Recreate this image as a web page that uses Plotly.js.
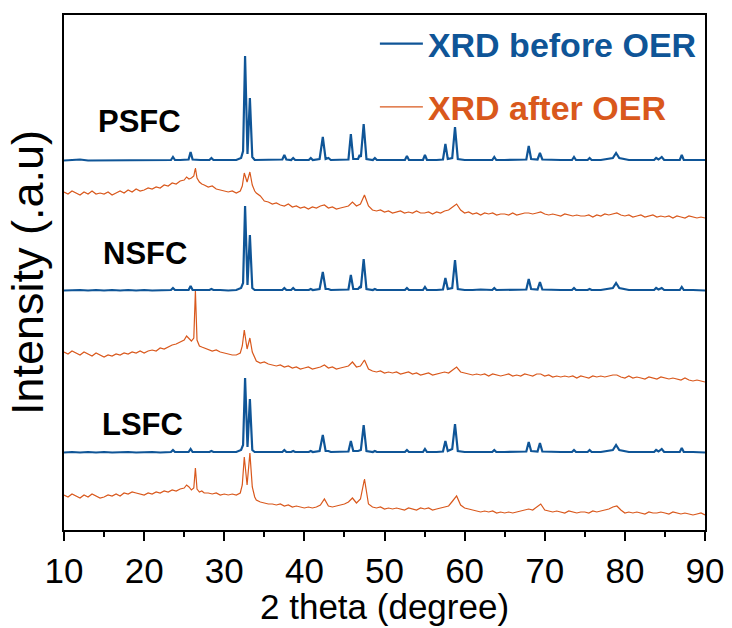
<!DOCTYPE html>
<html>
<head>
<meta charset="utf-8">
<script src="https://cdn.plot.ly/plotly-3.0.1.min.js"></script>
<style>html,body{margin:0;padding:0;background:#fff;}#chart{width:732px;height:628px;}</style>
</head>
<body>
<div id="chart"></div>
<script>
// 2-theta grid for the "before OER" (blue) patterns
const xBefore = [
  10, 11, 12, 13, 14, 15, 16, 17, 18, 19,
  20, 21, 22, 23, 23.35, 23.6, 23.85, 24.5, 25.55, 25.8,
  26.05, 27, 28.15, 28.4, 28.65, 29.5, 30.5, 31.5, 32.1, 32.35,
  32.6, 32.9, 33.2, 33.5, 33.8, 34.5, 35.5, 36.5, 37.25, 37.5,
  37.75, 38.35, 38.6, 38.85, 39.7, 40.55, 40.8, 41.05, 41.9, 42.3,
  42.65, 43.0, 43.3, 44.3, 45.5, 45.8, 46.1, 46.7, 46.9, 47.05,
  47.4, 47.75, 48.55, 48.8, 49.05, 50, 51, 52, 52.55, 52.8,
  53.05, 54, 54.8, 55.05, 55.3, 56.5, 57.3, 57.6, 57.9, 58.45,
  58.8, 59.15, 60, 61, 62, 63.45, 63.7, 63.95, 65, 66,
  67, 67.7, 68.0, 68.3, 69.1, 69.4, 69.7, 71, 72, 73.4,
  73.65, 73.9, 75.35, 75.6, 75.85, 77, 78.5, 78.9, 79.3, 80.5,
  82, 83.65, 83.9, 84.2, 84.6, 84.9, 86, 86.85, 87.1, 87.35,
  88.5, 90
];
const psfcBefore = [
  0.5, 1, 1.5, 0.5, 0.5, 1, 0.5, 1, 0.5, 1,
  0.5, 1, 1, 0.5, 1, 4, 1, 1, 1.5, 9,
  1.5, 1, 1, 3, 1, 1, 1, 1, 3, 10,
  105, 7, 63, 4, 1, 1, 1, 1, 1.5, 6,
  1.5, 1, 3, 1, 1, 1, 3, 1, 2, 24,
  2, 3, 1, 1, 1.5, 27, 2, 2, 6, 4,
  37, 2, 1, 3, 1, 1, 1, 1, 1, 5,
  1, 1, 1, 6, 1, 1, 1.5, 17, 2, 3,
  34, 2, 1, 1, 1, 1, 4, 1, 1, 1,
  1, 1.5, 15, 2, 1.5, 8, 1.5, 1, 1, 1,
  4, 1, 1, 3, 1, 1, 3, 8, 3, 1,
  1, 1, 3, 1.5, 4, 1, 1, 1, 6, 1,
  1, 1
];
const nsfcBefore = [
  0.5, 1, 1, 0.5, 1, 0.5, 1, 0.5, 1, 0.5,
  1, 0.5, 1, 1, 1, 3, 1, 1, 1, 5,
  1, 1, 1, 2, 1, 1, 0.5, 1, 3, 8,
  85, 6, 56, 3, 1, 1, 1, 1, 1, 3,
  1, 1, 3, 1, 1, 1, 2, 1, 2, 19,
  2, 2, 1, 1, 1.5, 16, 2, 2, 4, 3,
  32, 2, 1, 2, 1, 1, 1, 1, 1, 3,
  1, 1, 1, 4, 1, 1, 1.5, 13, 2, 3,
  31, 2, 1, 1, 1.5, 1, 3, 1, 1, 1,
  1, 1.5, 12, 2, 1.5, 9, 1.5, 1, 1, 1,
  3, 1, 1, 2, 1, 1, 3, 8, 3, 1,
  1, 1, 3, 1.5, 3, 1, 1, 1, 4, 1,
  1, 0.5
];
const lsfcBefore = [
  0.5, 1, 0.5, 1, 0.5, 1, 0.5, 1, 1, 0.5,
  1, 1, 0.5, 1, 1, 3, 1, 1, 1, 4,
  1, 1, 1, 2, 1, 1, 1, 1, 3, 8,
  75, 6, 54, 3, 1, 1, 1, 1, 1, 3,
  1, 1, 2, 1, 1, 1, 2, 1, 2, 18,
  2, 2, 1, 1, 1.5, 12, 2, 2, 3, 3,
  28, 2, 1, 2, 1, 1, 1, 1, 1, 3,
  1, 1, 1, 4, 1, 1, 1.5, 12, 2, 4,
  29, 2, 1, 1, 1, 1, 3, 1, 1, 1,
  1, 1.5, 11, 2, 1.5, 10, 1.5, 1, 1, 1,
  3, 1, 1, 3, 1, 1, 3, 8, 3, 1,
  1, 1, 3, 1.5, 4, 1, 1, 1, 5, 1,
  1, 0.5
];

// 2-theta grid for the "after OER" (orange) patterns
const xAfter = [
  10, 10.5, 11, 11.5, 12, 12.5, 13, 13.5, 14, 14.5,
  15, 15.5, 16, 16.5, 17, 17.5, 18, 18.5, 19, 19.5,
  20, 20.5, 21, 21.5, 22, 22.5, 23, 23.5, 24, 24.5,
  25, 25.3, 25.6, 25.9, 26.2, 26.4, 26.6, 26.9, 27.2, 27.5,
  28, 28.5, 29, 29.5, 30, 30.5, 31, 31.5, 32, 32.25,
  32.5, 32.85, 33.2, 33.5, 33.8, 34, 34.5, 35, 35.5, 36,
  36.5, 37, 37.5, 38, 38.5, 39, 39.5, 40, 40.5, 41,
  41.5, 42, 42.5, 43, 43.5, 44, 44.5, 45, 45.5, 46,
  46.5, 47, 47.5, 48, 48.5, 49, 49.5, 50, 50.5, 51,
  51.5, 52, 52.5, 53, 53.5, 54, 54.5, 55, 55.5, 56,
  56.5, 57, 57.5, 58, 58.5, 59, 59.5, 60, 60.5, 61,
  61.5, 62, 62.5, 63, 63.5, 64, 64.5, 65, 65.5, 66,
  66.5, 67, 67.5, 68, 68.5, 69, 69.5, 70, 70.5, 71,
  71.5, 72, 72.5, 73, 73.5, 74, 74.5, 75, 75.5, 76,
  76.5, 77, 77.5, 78, 78.5, 79, 79.5, 80, 80.5, 81,
  81.5, 82, 82.5, 83, 83.5, 84, 84.5, 85, 85.5, 86,
  86.5, 87, 87.5, 88, 88.5, 89, 89.5, 90
];
const psfcAfter = [
  26, 24, 27, 25, 23, 26, 24, 27, 24, 25,
  24, 26, 23, 25, 27, 25, 28, 26, 29, 27,
  28, 30, 29, 31, 30, 33, 32, 35, 34, 37,
  38, 41, 39, 40, 42, 50, 40, 36, 34, 33,
  31, 32, 29, 28, 27, 26, 27, 25, 27, 32,
  45, 36, 46, 33, 27, 25, 22, 17, 16, 14,
  15, 13, 12, 14, 11, 12, 10, 11, 9, 11,
  10, 12, 13, 10, 11, 9, 10, 11, 12, 16,
  12, 14, 23, 12, 8, 7, 8, 6, 7, 5,
  6, 7, 5, 6, 5, 7, 5, 5, 6, 4,
  6, 5, 7, 8, 11, 14, 8, 5, 6, 4,
  5, 3, 5, 4, 5, 3, 4, 4, 3, 5,
  3, 4, 5, 5, 4, 5, 6, 4, 3, 4,
  3, 2, 4, 3, 2, 3, 2, 2, 3, 1,
  3, 2, 4, 3, 4, 5, 3, 2, 3, 1,
  2, 3, 1, 2, 3, 1, 2, 1, 2, 0,
  2, 1, 0, 2, 1, 0, 1, 0
];
const nsfcAfter = [
  30, 28, 31, 29, 27, 30, 28, 26, 29, 27,
  25, 27, 26, 28, 27, 29, 28, 30, 29, 31,
  29, 31, 32, 31, 34, 33, 35, 37, 38, 40,
  42, 46, 43, 41, 44, 91, 42, 36, 35, 34,
  33, 31, 32, 30, 29, 28, 27, 27, 29, 36,
  52, 33, 44, 30, 24, 21, 19, 20, 18, 17,
  16, 17, 15, 16, 14, 15, 13, 14, 15, 13,
  14, 15, 17, 14, 15, 13, 14, 15, 16, 20,
  15, 16, 22, 13, 11, 10, 11, 9, 10, 9,
  10, 8, 9, 10, 8, 9, 7, 8, 9, 7,
  8, 9, 10, 9, 12, 15, 10, 9, 8, 7,
  8, 7, 8, 6, 8, 7, 6, 7, 8, 6,
  7, 6, 8, 7, 6, 8, 8, 6, 7, 5,
  6, 5, 6, 5, 6, 4, 6, 5, 4, 6,
  5, 6, 5, 6, 7, 7, 5, 4, 6, 4,
  5, 4, 3, 5, 4, 3, 5, 4, 3, 4,
  3, 2, 4, 2, 1, 2, 1, 0
];
const lsfcAfter = [
  20, 18, 21, 19, 17, 20, 18, 21, 19, 17,
  18, 20, 19, 21, 19, 22, 21, 23, 22, 21,
  20, 22, 21, 23, 22, 24, 23, 25, 24, 26,
  27, 30, 28, 25, 27, 47, 26, 23, 24, 22,
  22, 21, 22, 20, 21, 20, 21, 20, 22, 30,
  58, 30, 62, 28, 18, 15, 13, 12, 11, 11,
  10, 11, 9, 10, 8, 9, 8, 7, 8, 7,
  8, 10, 16, 9, 8, 9, 10, 11, 13, 17,
  12, 16, 36, 11, 8, 7, 8, 6, 7, 6,
  7, 6, 5, 7, 6, 5, 7, 6, 7, 5,
  6, 7, 8, 9, 14, 19, 10, 7, 6, 5,
  4, 3, 4, 3, 4, 2, 3, 2, 3, 2,
  3, 4, 5, 6, 5, 8, 11, 5, 4, 3,
  4, 3, 2, 4, 3, 2, 3, 3, 2, 4,
  3, 4, 5, 6, 8, 9, 5, 2, 3, 2,
  3, 2, 1, 3, 2, 2, 3, 2, 1, 3,
  2, 1, 2, 1, 0, 1, 2, 0
];

// vertical stacking offsets (a.u.)
const samples = ['PSFC', 'NSFC', 'LSFC'];
const offsetsBefore = [369, 239, 77];
const offsetsAfter = [312, 148, 15];
const legendNames = ['XRD before OER', 'XRD after OER'];
const xTitle = '2 theta (degree)';
const yTitle = 'Intensity (.a.u)';

const blue = '#0f5597';
const orange = '#d9581c';

const beforeSets = [psfcBefore, nsfcBefore, lsfcBefore];
const afterSets = [psfcAfter, nsfcAfter, lsfcAfter];

const traces = [];
beforeSets.forEach((arr, i) => {
  traces.push({
    x: xBefore, y: arr.map(v => v + offsetsBefore[i]),
    type: 'scatter', mode: 'lines',
    line: {color: blue, width: 2.2},
    name: '<span style="color:' + blue + '"><b>' + legendNames[0] + '</b></span>',
    legendgroup: 'before', showlegend: i === 0
  });
});
afterSets.forEach((arr, i) => {
  traces.push({
    x: xAfter, y: arr.map(v => v + offsetsAfter[i]),
    type: 'scatter', mode: 'lines',
    line: {color: orange, width: 1.2},
    name: '<span style="color:' + orange + '"><b>' + legendNames[1] + '</b></span>',
    legendgroup: 'after', showlegend: i === 0
  });
});

const labelPos = [[19.4, 408.5], [20.1, 277], [19.8, 106]];
const annotations = samples.map((s, i) => ({
  x: labelPos[i][0], y: labelPos[i][1], xref: 'x', yref: 'y',
  text: '<b>' + s + '</b>', showarrow: false,
  font: {family: 'Liberation Sans, Arial, sans-serif', size: 31, color: '#000'}
}));
// x-axis title placed just under the tick labels
annotations.push({
  x: 0.5, y: 0, xref: 'paper', yref: 'paper',
  xanchor: 'center', yanchor: 'top', yshift: -55,
  text: xTitle, showarrow: false,
  font: {family: 'Liberation Sans, Arial, sans-serif', size: 35, color: '#000'}
});

const layout = {
  width: 732, height: 628,
  margin: {l: 64, r: 27, t: 15, b: 98},
  paper_bgcolor: '#fff', plot_bgcolor: '#fff',
  font: {family: 'Liberation Sans, Arial, sans-serif', color: '#000'},
  showlegend: true,
  legend: {
    x: 0.485, y: 1.0, xanchor: 'left', yanchor: 'top',
    bgcolor: 'rgba(0,0,0,0)', borderwidth: 0,
    font: {size: 34, family: 'Liberation Sans, Arial, sans-serif'},
    tracegroupgap: 16, itemwidth: 43
  },
  xaxis: {
    range: [10, 90], dtick: 10, tick0: 10,
    ticks: 'outside', ticklen: 9, tickwidth: 2, tickcolor: '#000',
    minor: {dtick: 5, ticks: 'outside', ticklen: 5, tickwidth: 2, tickcolor: '#000'},
    showline: true, linewidth: 2, linecolor: '#000', mirror: true,
    showgrid: false, zeroline: false,
    tickfont: {size: 35, color: '#000'}
  },
  yaxis: {
    range: [0, 515],
    showticklabels: false, ticks: '',
    showline: true, linewidth: 2, linecolor: '#000', mirror: true,
    showgrid: false, zeroline: false,
    title: {text: yTitle, font: {size: 45, color: '#000'}, standoff: 4}
  },
  annotations: annotations
};

Plotly.newPlot('chart', traces, layout, {displayModeBar: false, staticPlot: true});
</script>
</body>
</html>
